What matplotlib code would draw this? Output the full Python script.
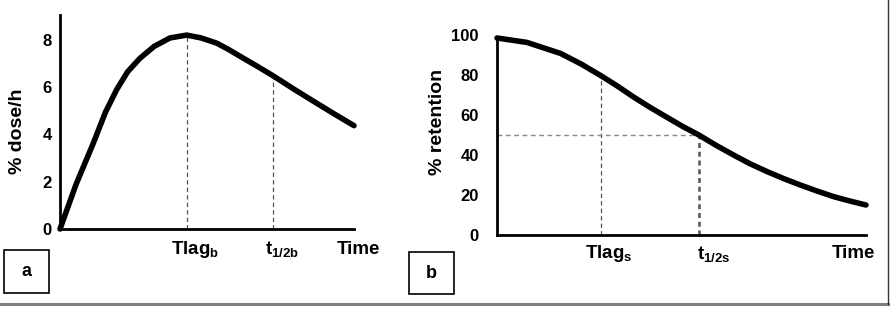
import matplotlib.pyplot as plt
from matplotlib.lines import Line2D
from matplotlib.patches import Rectangle
import matplotlib.transforms as mtransforms

plt.rcParams["font.family"] = ["Liberation Sans", "DejaVu Sans"]
plt.rcParams["font.weight"] = "bold"
plt.rcParams["mathtext.fontset"] = "custom"
plt.rcParams["mathtext.rm"] = "Liberation Sans:bold"
plt.rcParams["mathtext.it"] = "Liberation Sans:bold"
plt.rcParams["mathtext.bf"] = "Liberation Sans:bold"

# panel a: excretion rate curve (% dose/h vs time, time in arbitrary 0-100 units)
time_a = [0, 5.5, 11.3, 15.5, 19.3, 23.0, 27.2, 32.0, 37.4, 43.1, 48.0, 53.3, 57.5, 62.4, 67.5, 72.6, 80.0, 87.3, 93.5, 100]
dose_a = [0, 1.9, 3.62, 4.95, 5.9, 6.65, 7.22, 7.72, 8.08, 8.2, 8.08, 7.86, 7.58, 7.22, 6.85, 6.47, 5.88, 5.32, 4.85, 4.37]
yticks_a = [0, 2, 4, 6, 8]
tlag_a, tlag_a_val = 43.1, 8.2
thalf_a, thalf_a_val = 72.6, 6.47

# panel b: retention curve (% retention vs time)
time_b = [0, 8.1, 17.2, 22.8, 28.3, 32.6, 37.0, 41.5, 46.1, 50.4, 54.7, 59.4, 64.1, 68.6, 73.2, 77.7, 82.2, 86.7, 91.2, 95.6, 100]
ret_b = [98.5, 96.3, 90.8, 85.5, 79.5, 74.5, 69.0, 63.8, 58.8, 54.2, 50.0, 44.8, 40.0, 35.6, 31.7, 28.2, 25.0, 22.0, 19.2, 17.0, 15.0]
yticks_b = [0, 20, 40, 60, 80, 100]
tlag_b, tlag_b_val = 28.3, 79.5
thalf_b, thalf_b_val = 54.7, 50.0

W, H = 895, 310
fig = plt.figure(figsize=(W / 100, H / 100), dpi=100)


def px_axes(x0, x1, ytop, ybot):
    return fig.add_axes([x0 / W, (H - ybot) / H, (x1 - x0) / W, (ybot - ytop) / H])


def style(ax, ymax, yticks, pad):
    ax.set_xlim(0, 100)
    ax.set_ylim(0, ymax)
    for s in ["top", "right"]:
        ax.spines[s].set_visible(False)
    for s in ["left", "bottom"]:
        ax.spines[s].set_linewidth(2.0)
    ax.set_xticks([])
    ax.set_yticks(yticks)
    ax.set_yticklabels([str(v) for v in yticks], fontsize=12, fontweight="bold")
    ax.tick_params(axis="y", length=0, pad=pad)
    ax.patch.set_alpha(0)


def xlabels(ax, items):
    trans = mtransforms.blended_transform_factory(ax.transData, ax.transAxes)
    for x, lab in items:
        ax.text(x, -0.095, lab, transform=trans, ha="center", va="center",
                fontsize=13.5, fontweight="bold", clip_on=False)


dash = dict(color="#555555", lw=0.9, ls=(0, (3.5, 2.5)))
curve = dict(color="black", lw=4.0, solid_capstyle="round", solid_joinstyle="round", clip_on=False)

# ---- panel a
ax1 = px_axes(60, 354, 15, 229)
style(ax1, 9.05, yticks_a, 6)
ax1.vlines([tlag_a, thalf_a], 0, [tlag_a_val, thalf_a_val], **dash)
ax1.plot(time_a, dose_a, **curve)
xlabels(ax1, [(tlag_a + 3, r"Tlag$_{\mathregular{b}}$"), (thalf_a + 3, r"t$_{\mathregular{1/2b}}$"),
              (101.5, "Time")])
fig.text(18 / W, 1 - 131 / H, "% dose/h", rotation=90, ha="center", va="center",
         fontsize=14, fontweight="bold")

# ---- panel b
ax2 = px_axes(497, 866, 35, 235)
style(ax2, 100, yticks_b, 13)
ax2.spines["left"].set_bounds(0, ret_b[0])
ax2.vlines([tlag_b], 0, [tlag_b_val], **dash)
ax2.vlines([thalf_b], 0, [thalf_b_val], color="#555555", lw=1.8, ls=(0, (2, 1.5)))
ax2.hlines([thalf_b_val], 0, thalf_b, color="#888888", lw=1.0, ls=(0, (3.5, 2.5)))
ax2.plot(time_b, ret_b, **curve)
xlabels(ax2, [(tlag_b + 2, r"Tlag$_{\mathregular{s}}$"), (thalf_b + 4, r"t$_{\mathregular{1/2s}}$"),
              (96.5, "Time")])
fig.text(438 / W, 1 - 122 / H, "% retention", rotation=90, ha="center", va="center",
         fontsize=14, fontweight="bold")

# ---- panel letters in boxes
for (x0, y0, x1, y1), letter in [((4, 250, 49, 293), "a"), ((409, 252, 454, 294), "b")]:
    fig.patches.append(Rectangle((x0 / W, 1 - y1 / H), (x1 - x0) / W, (y1 - y0) / H,
                                 transform=fig.transFigure, fill=False, ec="black", lw=1.2))
    fig.text((x0 + x1) / 2 / W, 1 - (y0 + y1) / 2 / H, letter, ha="center", va="center",
             fontsize=13, fontweight="bold")

# ---- outer frame lines
fig.lines.append(Line2D([0, 888 / W], [1 - 304 / H] * 2, transform=fig.transFigure,
                        color="#808080", lw=2.2))
fig.lines.append(Line2D([888 / W] * 2, [1 - 304 / H, 1], transform=fig.transFigure,
                        color="#333333", lw=1.0))

fig.savefig("out.png", dpi=100)
